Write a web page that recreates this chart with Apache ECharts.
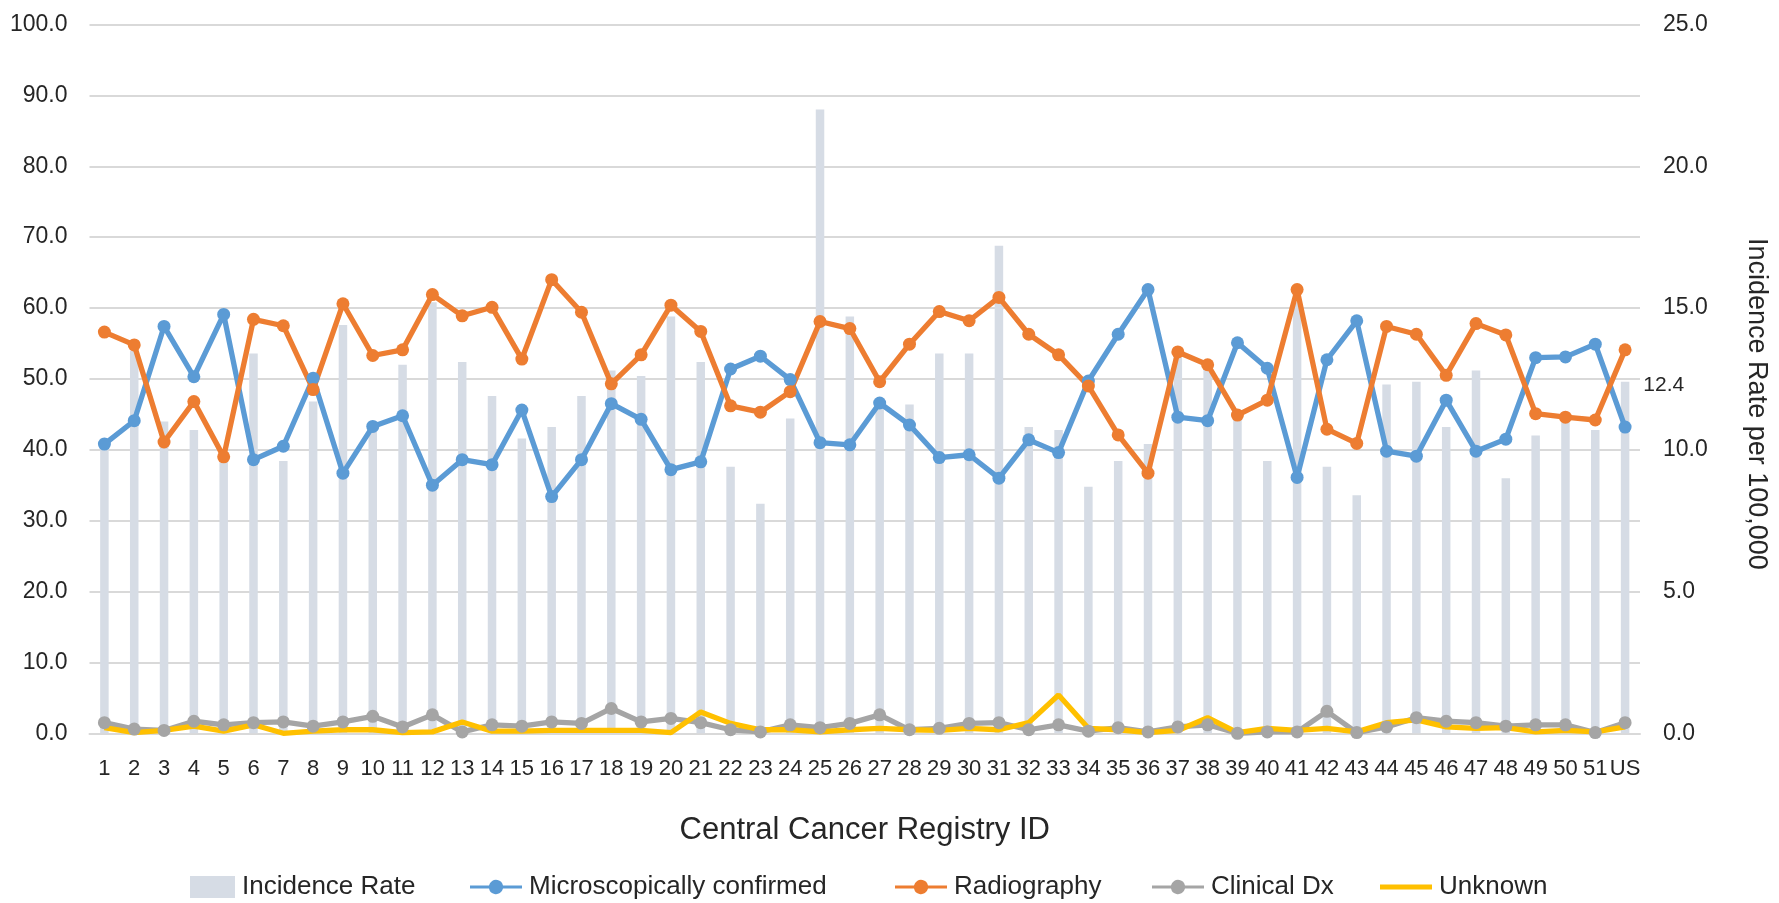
<!DOCTYPE html>
<html><head><meta charset="utf-8">
<script src="https://cdn.jsdelivr.net/npm/echarts@6/dist/echarts.min.js"></script>
<style>html,body{margin:0;padding:0;background:#fff}#c{width:1779px;height:903px}</style>
</head><body><div id="c"></div>
<script>
const categories = ['1','2','3','4','5','6','7','8','9','10','11','12','13','14','15','16','17','18','19','20','21','22','23','24','25','26','27','28','29','30','31','32','33','34','35','36','37','38','39','40','41','42','43','44','45','46','47','48','49','50','51','US'];
const incidenceRate = [10.4,13.5,11.0,10.7,9.8,13.4,9.6,11.7,14.4,10.8,13.0,15.2,13.1,11.9,10.4,10.8,11.9,12.8,12.6,14.7,13.1,9.4,8.1,11.1,22.0,14.7,11.5,11.6,13.4,13.4,17.2,10.8,10.7,8.7,9.6,10.2,13.4,12.9,11.1,9.6,15.2,9.4,8.4,12.3,12.4,10.8,12.8,9.0,10.5,11.0,10.7,12.4];
const microscopic = [40.8,44.1,57.4,50.3,59.1,38.6,40.5,50.1,36.7,43.3,44.8,35.0,38.6,37.9,45.6,33.4,38.6,46.5,44.3,37.2,38.3,51.4,53.2,49.9,41.0,40.7,46.6,43.5,38.9,39.3,36.0,41.4,39.6,49.7,56.3,62.6,44.6,44.1,55.1,51.5,36.1,52.7,58.2,39.8,39.1,47.0,39.8,41.5,53.0,53.1,54.9,43.2];
const radiography = [56.6,54.8,41.1,46.8,39.0,58.4,57.5,48.5,60.6,53.3,54.1,61.9,58.9,60.1,52.8,64.0,59.4,49.3,53.4,60.4,56.7,46.2,45.3,48.2,58.1,57.1,49.6,54.9,59.5,58.2,61.5,56.3,53.4,49.0,42.1,36.7,53.8,52.0,44.9,47.0,62.6,42.9,40.9,57.4,56.3,50.5,57.8,56.2,45.1,44.6,44.2,54.1];
const clinicalDx = [1.5,0.6,0.4,1.7,1.2,1.5,1.6,1.0,1.6,2.4,0.9,2.6,0.2,1.2,1.0,1.6,1.4,3.5,1.6,2.1,1.5,0.5,0.2,1.2,0.8,1.4,2.6,0.5,0.7,1.4,1.5,0.5,1.2,0.3,0.8,0.2,0.9,1.2,0.0,0.2,0.2,3.1,0.1,0.9,2.2,1.7,1.5,1.0,1.2,1.2,0.1,1.5];
const unknown = [0.8,0.1,0.4,1.0,0.3,1.2,0.0,0.3,0.5,0.5,0.1,0.2,1.6,0.3,0.3,0.4,0.4,0.4,0.4,0.1,3.0,1.4,0.5,0.5,0.2,0.5,0.7,0.5,0.4,0.7,0.5,1.5,5.4,0.7,0.5,0.1,0.4,2.2,0.1,0.7,0.4,0.7,0.2,1.5,1.9,0.9,0.7,0.8,0.2,0.4,0.2,0.9];
const seriesNames = ['Incidence Rate','Microscopically confirmed','Radiography','Clinical Dx','Unknown'];
const xAxisTitle = 'Central Cancer Registry ID';
const rightAxisTitle = 'Incidence Rate per 100,000';

const FONT = "'Liberation Sans', Arial, sans-serif";
const TXT = '#262626';
const chart = echarts.init(document.getElementById('c'), null, {renderer: 'canvas'});
const last = incidenceRate.length - 1;
const barData = incidenceRate.map((v, i) => i === last ? {
  value: v,
  label: {show: true, position: ['100%', 0], align: 'left', verticalAlign: 'middle', offset: [14, 3],
    formatter: p => p.value.toFixed(1), fontSize: 21, color: TXT, fontFamily: FONT}
} : v);

function lineSeries(name, data, color, withSymbol) {
  return {
    name, type: 'line', yAxisIndex: 0, data,
    symbol: withSymbol ? 'circle' : 'none', symbolSize: 13, showSymbol: withSymbol,
    lineStyle: {color, width: 5.3}, itemStyle: {color},
    emphasis: {disabled: true}, animation: false
  };
}
const markerIcon = 'path://M0,5.5 L19,5.5 A7.16,7.16 0 0,1 33,5.5 L52,5.5 L52,8.5 L33,8.5 A7.16,7.16 0 0,1 19,8.5 L0,8.5 Z';
const plainIcon = 'path://M0,0 L52,0 L52,5 L0,5 Z';
const legendLefts = [190, 470, 895, 1152, 1380];
const legendIcons = ['rect', markerIcon, markerIcon, markerIcon, plainIcon];
const legendSizes = [[45, 22], [52, 14.32], [52, 14.32], [52, 14.32], [52, 5]];
const legends = seriesNames.map((n, i) => ({
  data: [n], left: legendLefts[i], top: 874, padding: 0,
  icon: legendIcons[i],
  itemWidth: legendSizes[i][0], itemHeight: legendSizes[i][1], itemGap: 0,
  textStyle: {fontSize: 26, color: TXT, fontFamily: FONT, padding: [0, 0, 0, 2]},
  selectedMode: false
}));

chart.setOption({
  animation: false,
  backgroundColor: '#fff',
  textStyle: {fontFamily: FONT},
  grid: {left: 89.5, right: 139, top: 24.5, bottom: 169.7, containLabel: false},
  legend: legends,
  xAxis: {
    type: 'category', data: categories, boundaryGap: true,
    axisTick: {show: false},
    axisLine: {lineStyle: {color: '#d9d9d9', width: 2}},
    axisLabel: {interval: 0, fontSize: 22, color: TXT, margin: 25, fontFamily: FONT},
    name: xAxisTitle, nameLocation: 'middle', nameGap: 82,
    nameTextStyle: {fontSize: 31, color: TXT, fontFamily: FONT}
  },
  yAxis: [{
    type: 'value', min: 0, max: 100, interval: 10, position: 'left',
    axisLine: {show: false}, axisTick: {show: false},
    axisLabel: {formatter: v => v.toFixed(1), fontSize: 23, color: TXT, margin: 22, fontFamily: FONT},
    splitLine: {lineStyle: {color: '#d9d9d9', width: 2}}
  }, {
    type: 'value', min: 0, max: 25, interval: 5, position: 'right',
    axisLine: {show: false}, axisTick: {show: false},
    axisLabel: {formatter: v => v.toFixed(1), fontSize: 23, color: TXT, margin: 23, fontFamily: FONT},
    splitLine: {show: false},
    name: rightAxisTitle, nameLocation: 'middle', nameRotate: -90, nameGap: 103,
    nameTextStyle: {fontSize: 27, color: TXT, fontFamily: FONT, padding: [0, 0, 0, 50]}
  }],
  series: [
    {name: seriesNames[0], type: 'bar', yAxisIndex: 1, data: barData, barWidth: 8.5,
     itemStyle: {color: '#d6dce5'}, emphasis: {disabled: true}},
    lineSeries(seriesNames[1], microscopic, '#5b9bd5', true),
    lineSeries(seriesNames[2], radiography, '#ed7d31', true),
    lineSeries(seriesNames[3], clinicalDx, '#a5a5a5', true),
    lineSeries(seriesNames[4], unknown, '#ffc000', false)
  ]
});
</script></body></html>
